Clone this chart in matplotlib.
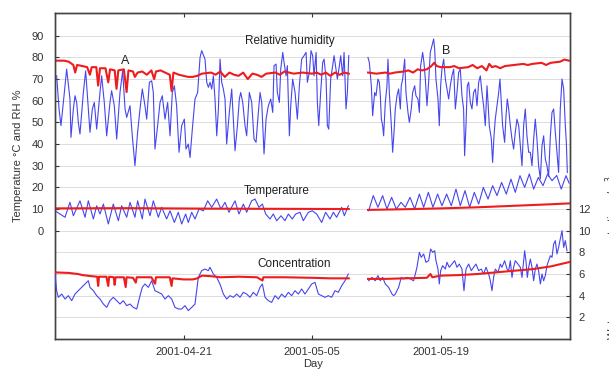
import numpy as np
import matplotlib
matplotlib.use("Agg")
import matplotlib.pyplot as plt
import matplotlib.dates as mdates
from datetime import datetime, timedelta

plt.rcParams['font.family'] = ['Liberation Sans', 'DejaVu Sans']

START = datetime(2001, 4, 7)

# ---------------- data (day offset from 2001-04-07, value) ----------------
rh_blue_1 = [
    (0.18, 71.5), (0.44, 56.2), (0.65, 48.5), (0.91, 59.2), (1.27, 74.6), (1.63, 60.8), (1.74, 43.1),
    (2.0, 56.2), (2.18, 62.3), (2.36, 59.2), (2.54, 50), (2.72, 44.6), (3.09, 63.8), (3.34, 73.8),
    (3.63, 56.2), (3.81, 45.4), (4.07, 56.2), (4.28, 59.2), (4.54, 46.9), (4.9, 63.8), (5.08, 71.5),
    (5.37, 59.2), (5.63, 43.8), (5.99, 59.2), (6.17, 64.6), (6.46, 57.7), (6.72, 42.3), (7.08, 63.8),
    (7.37, 73.8), (7.63, 56.2), (7.81, 52.3), (8.17, 57.7), (8.42, 43.8), (8.71, 30), (9.0, 45.4),
    (9.26, 56.2), (9.51, 65.4), (9.8, 57.7), (9.99, 51.5), (10.28, 68.5), (10.53, 69.2), (10.71, 63.8),
    (10.89, 37.7), (11.18, 48.5), (11.44, 59.2), (11.69, 62.3), (11.98, 51.5), (12.27, 59.2),
    (12.53, 43.8), (12.78, 63.8), (13.0, 66.9), (13.25, 57.7), (13.51, 36.2), (13.8, 48.5),
    (14.09, 51.5), (14.27, 37.7), (14.52, 40), (14.71, 33.8), (14.96, 46.9), (15.25, 60.8),
    (15.54, 63.8), (15.8, 80), (15.98, 83.1),
    (16.34, 79.2), (16.53, 68.5), (16.71, 66.2), (16.89, 68.5), (17.07, 65.4), (17.25, 71.5),
    (17.43, 60.8), (17.62, 43.8), (17.8, 56.2), (17.98, 79.2), (18.16, 68.5), (18.34, 65.4),
    (18.52, 60.8), (18.7, 40), (18.99, 54.6), (19.25, 65.4), (19.43, 51.5), (19.61, 36.9),
    (19.87, 48.5), (20.08, 60.8), (20.23, 63.8), (20.45, 59.2), (20.7, 48.5), (20.88, 43.8),
    (21.17, 63.8), (21.43, 59.2), (21.68, 42.3), (21.9, 40.8), (22.15, 54.6), (22.34, 63.8),
    (22.52, 59.2), (22.77, 35.4), (22.99, 51.5), (23.24, 57.7), (23.5, 60.8), (23.72, 54.6),
    (23.86, 76.2), (24.08, 76.9), (24.22, 63.8), (24.44, 59.2), (24.59, 74.6), (24.81, 82.3),
    (24.95, 77.7), (25.17, 71.5), (25.31, 76.2), (25.53, 43.8), (25.68, 57.7), (25.89, 70),
    (26.15, 63.8), (26.4, 51.5), (26.62, 66.9), (26.87, 79.2), (27.13, 80.8), (27.35, 82.3),
    (27.49, 68.5), (27.71, 73.1), (27.89, 83.1), (28.07, 80.8), (28.22, 71.5), (28.44, 82.3),
    (28.58, 59.2), (28.73, 48.5), (28.94, 63.8), (29.16, 77.7), (29.31, 79.2), (29.53, 70),
    (29.67, 48.5), (29.82, 46.9), (30.03, 70), (30.25, 76.2), (30.4, 80.8), (30.61, 74.6),
    (30.76, 70), (30.98, 76.2), (31.12, 80.8), (31.34, 71.5), (31.49, 82.3), (31.7, 56.2),
    (31.85, 63.8), (32.0, 80.8),
]
rh_blue_2 = [
    (34.09, 80.0), (34.24, 77.7), (34.46, 66.9), (34.60, 53.1), (34.82, 63.8), (34.97, 62.3),
    (35.18, 70), (35.33, 68.5), (35.44, 62.3), (35.55, 51.5), (35.69, 48.5), (35.80, 43.8),
    (35.98, 59.2), (36.16, 66.9), (36.27, 79.2), (36.42, 63.8), (36.64, 48.5), (36.78, 36.2),
    (36.93, 45.4), (37.07, 56.2), (37.25, 62.3), (37.43, 65.4), (37.62, 56.2), (37.72, 66.9),
    (37.87, 70), (38.09, 79.2), (38.23, 63.8), (38.45, 54.6), (38.60, 50), (38.81, 56.2),
    (38.96, 63.8), (39.18, 66.9), (39.32, 62.3), (39.54, 60.8), (39.69, 54.6), (39.83, 76.2),
    (40.05, 82.3), (40.19, 77.7), (40.34, 70), (40.52, 57.7), (40.70, 68.5), (40.88, 82.3),
    (41.07, 85.4), (41.25, 88.5), (41.36, 83.8), (41.50, 70), (41.72, 60.8), (41.86, 48.5),
    (42.01, 66.9), (42.15, 74.6), (42.34, 79.2), (42.52, 70), (42.70, 65.4), (42.88, 60.8),
    (43.06, 66.9), (43.24, 71.5), (43.43, 74.6), (43.61, 56.2), (43.79, 63.8), (43.97, 73.1),
    (44.15, 74.6), (44.33, 62.3), (44.51, 56.2), (44.62, 34.6), (44.77, 48.5), (44.91, 66.9),
    (45.06, 68.5), (45.24, 59.2), (45.42, 56.2), (45.60, 63.8), (45.79, 65.4), (45.97, 57.7),
    (46.15, 68.5), (46.33, 71.5), (46.51, 63.8), (46.69, 57.7), (46.87, 48.5), (47.06, 66.9),
    (47.17, 59.2), (47.31, 48.5), (47.53, 42.3), (47.67, 31.5), (47.82, 43.8), (47.96, 51.5),
    (48.15, 57.7), (48.33, 63.8), (48.47, 70), (48.62, 59.2), (48.76, 48.5), (48.98, 40.8),
    (49.13, 53.1), (49.27, 60.8), (49.42, 56.2), (49.60, 48.5), (49.78, 42.3), (49.96, 37.7),
    (50.14, 45.4), (50.32, 51.5), (50.51, 48.5), (50.69, 39.2), (50.87, 30), (51.05, 48.5),
    (51.23, 56.2), (51.41, 43.8), (51.60, 36.2), (51.78, 36.2), (51.96, 30), (52.14, 42.3),
    (52.32, 51.5), (52.50, 42.3), (52.68, 30), (52.87, 24), (53.05, 39.2), (53.23, 43.8),
    (53.41, 33.1), (53.59, 30), (53.77, 25), (53.96, 43.8), (54.14, 54.6), (54.32, 56.2),
    (54.50, 45.4), (54.68, 36.2), (54.86, 26.9), (55.04, 56.2), (55.23, 70), (55.41, 65.4),
    (55.59, 48.5), (55.70, 40.8), (55.81, 26.9),
]
rh_red_1 = [
    (0, 78.5), (1.0, 78.5), (1.5, 78), (2.0, 76.5), (2.2, 73), (2.4, 76.5), (3.0, 76), (3.5, 75.5),
    (3.8, 72), (4.0, 75.5), (4.5, 75.5), (4.7, 67), (4.9, 75), (5.5, 75), (5.8, 68.5), (6.0, 74.5),
    (6.5, 74), (6.7, 65.5), (6.9, 74), (7.5, 74.5), (7.8, 64), (8.0, 74), (8.5, 73.5), (8.7, 71),
    (9.0, 73), (9.5, 73.5), (10.0, 72), (10.5, 74), (10.8, 70), (11.0, 73.5), (11.5, 74),
    (12.0, 73), (12.5, 72), (12.7, 64.5), (12.9, 73), (13.5, 72), (14.0, 71.5), (14.5, 71),
    (15.0, 71), (15.5, 71.5), (16.0, 72.5), (17, 73), (17.5, 72), (18, 73.5), (18.5, 71), (19, 73),
    (19.5, 72), (20, 71.5), (20.5, 73), (21, 70), (21.5, 72.5), (22, 72), (22.5, 71), (23, 72.5),
    (24, 73), (24.5, 72), (25, 73.5), (26, 72.5), (27, 73), (28, 72.5), (28.5, 73), (29, 72),
    (29.5, 73), (30, 71.5), (30.5, 73), (31, 72), (31.5, 73), (32.0, 72.5),
]
rh_red_2 = [
    (34.1, 73), (35, 72.5), (36, 73), (36.5, 72.5), (37, 73), (38, 73.5), (38.5, 74), (39, 73),
    (39.5, 74.5), (40, 74), (40.5, 74.5), (41, 76), (41.3, 77.5), (41.6, 76), (42, 75.5),
    (43, 75.5), (43.5, 76), (44, 75), (45, 75.5), (45.5, 76.5), (46, 75), (46.5, 76), (47, 74),
    (47.3, 77), (47.6, 75.5), (48, 76), (48.5, 75), (49, 76), (50, 76.5), (51, 77), (51.5, 76.5),
    (52, 77), (53, 77.5), (53.5, 76.5), (54, 77.5), (55, 78), (55.5, 79), (56, 78.5),
]
temp_blue_1 = [
    (0.0, 9.2), (1.09, 6.2), (1.63, 13.1), (2.0, 6.9), (2.72, 13.8), (3.27, 6.2), (3.63, 13.8),
    (4.18, 5.4), (4.54, 11.5), (4.9, 7.7), (5.27, 12.3), (5.81, 3.1), (6.35, 12.3), (6.9, 4.6),
    (7.26, 11.5), (7.81, 6.2), (8.17, 13.1), (8.71, 6.2), (9.0, 13.8), (9.51, 5.4), (9.8, 14.6),
    (10.35, 6.9), (10.71, 13.8), (11.26, 6.2), (11.62, 10.8), (12.16, 5.4), (12.53, 9.2),
    (13.0, 3.8), (13.43, 8.5), (13.8, 3.1), (14.23, 7.7), (14.52, 3.8), (14.89, 8.5), (15.25, 5.4),
    (15.69, 10), (16.16, 9.2), (16.63, 13.8), (17.07, 10.8), (17.61, 14.6), (18.08, 10),
    (18.52, 13.1), (18.95, 8.5), (19.61, 13.8), (20.04, 7.7), (20.52, 12.3), (20.88, 8.5),
    (21.42, 13.8), (21.79, 14.6), (22.22, 10.8), (22.59, 12.3), (22.95, 7.7), (23.42, 5.4),
    (23.78, 7.7), (24.15, 4.6), (24.62, 6.9), (25.05, 4.6), (25.42, 7.7), (25.85, 5.4),
    (26.22, 7.7), (26.69, 8.5), (27.05, 4.6), (27.6, 8.5), (28.03, 9.2), (28.5, 7.7), (29.05, 3.8),
    (29.48, 8.5), (29.96, 5.4), (30.32, 8.5), (30.68, 6.2), (31.23, 10.8), (31.52, 6.9),
    (31.95, 11.5),
]
temp_blue_2 = [
    (34.17, 9.2), (34.67, 16.2), (35.18, 10.8), (35.69, 16.2), (36.16, 10), (36.67, 15.4),
    (37.18, 10), (37.69, 13.1), (38.16, 10.8), (38.67, 15.4), (39.18, 10), (39.69, 16.9),
    (40.16, 10.8), (40.67, 17.7), (41.17, 10.8), (41.68, 16.9), (42.15, 11.5), (42.66, 16.9),
    (43.17, 11.5), (43.68, 19.2), (44.15, 11.5), (44.66, 18.5), (45.17, 10.8), (45.68, 17.7),
    (46.15, 12.3), (46.66, 20), (47.17, 14.6), (47.67, 20.8), (48.15, 16.2), (48.65, 22.3),
    (49.16, 16.9), (49.67, 23.8), (50.14, 17.7), (50.65, 25.4), (51.16, 20), (51.67, 26.2),
    (52.14, 19.2), (52.65, 24.6), (53.16, 20.8), (53.66, 26.2), (54.14, 23.1), (54.65, 25.5),
    (55.15, 19.2), (55.66, 25.4), (56.0, 22),
]
temp_red_1 = [(0, 10.3), (8, 10.4), (16, 10.2), (24, 10.1), (32, 10.0)]
temp_red_2 = [(34.1, 9.6), (38, 9.9), (42, 10.3), (46, 10.8), (50, 11.5), (54, 12.2), (56, 12.6)]

conc_blue_1 = [
    (0.0, 6.0), (0.18, 4.46), (0.36, 3.85), (0.73, 4.15), (1.09, 3.69), (1.45, 4.0), (1.82, 3.54),
    (2.18, 4.15), (2.54, 4.46), (2.9, 4.77), (3.27, 5.08), (3.63, 5.38), (3.81, 4.77), (4.18, 4.46),
    (4.54, 4.0), (4.9, 3.69), (5.27, 3.23), (5.63, 2.92), (5.99, 3.54), (6.35, 3.85), (6.72, 3.54),
    (7.08, 3.23), (7.44, 3.54), (7.81, 3.08), (8.17, 3.23), (8.53, 2.92), (8.9, 2.77), (9.26, 4.0),
    (9.51, 4.77), (9.8, 5.08), (10.17, 4.77), (10.53, 5.38), (10.89, 4.46), (11.26, 4.31),
    (11.62, 4.15), (11.98, 3.69), (12.35, 4.0), (12.71, 3.69), (13.07, 2.92), (13.43, 2.77),
    (13.8, 2.77), (14.16, 3.08), (14.52, 2.62), (14.89, 2.92), (15.25, 3.23), (15.61, 5.69),
    (15.98, 6.31), (16.34, 6.46), (16.7, 6.31), (16.88, 6.62), (17.25, 6.0), (17.61, 5.69),
    (17.97, 5.08), (18.34, 4.15), (18.7, 3.69), (19.06, 4.0), (19.43, 3.85), (19.79, 4.15),
    (20.15, 3.85), (20.52, 4.31), (20.88, 4.15), (21.24, 3.85), (21.6, 4.31), (21.97, 4.0),
    (22.33, 4.77), (22.59, 5.08), (22.88, 3.85), (23.24, 3.54), (23.6, 3.38), (23.97, 4.0),
    (24.33, 3.69), (24.69, 4.15), (25.05, 3.85), (25.42, 4.31), (25.78, 4.0), (26.14, 4.46),
    (26.51, 4.15), (26.87, 4.62), (27.23, 4.15), (27.6, 4.62), (27.96, 5.08), (28.32, 5.23),
    (28.69, 4.15), (29.05, 4.0), (29.41, 3.85), (29.77, 4.0), (30.14, 3.85), (30.5, 4.46),
    (30.86, 4.31), (31.23, 4.92), (31.59, 5.38), (31.95, 6.0),
]
conc_blue_2 = [
    (34.17, 5.38), (34.53, 5.69), (34.89, 5.38), (35.18, 5.85), (35.44, 5.38), (35.69, 5.69),
    (35.98, 5.08), (36.34, 4.77), (36.71, 4.15), (36.89, 4.0), (37.07, 4.15), (37.43, 4.77),
    (37.72, 5.69), (37.98, 5.54), (38.34, 5.69), (38.71, 5.54), (39.07, 5.38), (39.43, 6.62),
    (39.69, 8.0), (39.9, 7.54), (40.16, 7.85), (40.41, 7.08), (40.7, 7.23), (40.92, 8.31),
    (41.14, 8.0), (41.36, 8.15), (41.5, 7.23), (41.72, 6.46), (41.86, 5.08), (42.01, 6.31),
    (42.23, 6.77), (42.52, 6.46), (42.7, 7.08), (42.95, 6.62), (43.24, 6.92), (43.53, 7.23),
    (43.79, 6.62), (44.04, 6.92), (44.33, 6.46), (44.55, 4.46), (44.77, 6.46), (45.06, 6.92),
    (45.35, 6.31), (45.6, 6.62), (45.86, 6.92), (46.15, 6.31), (46.44, 6.46), (46.69, 6.0),
    (46.95, 6.62), (47.24, 6.0), (47.42, 5.38), (47.6, 4.46), (47.78, 5.69), (47.96, 6.46),
    (48.25, 6.15), (48.51, 6.92), (48.69, 6.62), (48.98, 7.23), (49.24, 6.46), (49.42, 6.31),
    (49.6, 7.23), (49.78, 5.69), (49.96, 6.62), (50.14, 7.23), (50.43, 6.92), (50.69, 6.62),
    (50.87, 5.69), (51.16, 8.15), (51.3, 7.23), (51.45, 5.69), (51.6, 6.62), (51.78, 7.38),
    (51.96, 6.62), (52.14, 5.38), (52.32, 6.46), (52.5, 6.92), (52.68, 6.31), (52.87, 5.08),
    (53.05, 6.0), (53.23, 5.38), (53.41, 5.85), (53.59, 6.77), (53.77, 7.23), (53.96, 7.69),
    (54.14, 7.54), (54.32, 8.77), (54.5, 9.08), (54.68, 7.85), (54.86, 8.46), (55.04, 9.23),
    (55.23, 10.0), (55.41, 8.46), (55.59, 9.08), (55.77, 8.15),
]
conc_red_1 = [
    (0, 6.15), (1.5, 6.1), (2.5, 6.0), (3.0, 5.9), (3.5, 5.85), (4.0, 5.8), (4.6, 5.75), (4.7, 4.9),
    (4.8, 5.75), (5.6, 5.75), (5.8, 4.9), (5.9, 5.75), (6.4, 5.7), (6.5, 5.0), (6.6, 5.7),
    (7.5, 5.7), (7.7, 4.8), (7.8, 5.7), (8.5, 5.65), (8.8, 5.2), (8.9, 5.7), (10.5, 5.7),
    (10.9, 5.1), (11.0, 5.7), (12.5, 5.7), (12.7, 4.9), (12.8, 5.6), (14, 5.5), (15, 5.5),
    (15.5, 5.6), (16, 5.85), (17, 5.8), (18, 5.7), (20, 5.75), (22, 5.7), (22.6, 5.4), (22.7, 5.7),
    (25, 5.7), (28, 5.65), (30, 5.6), (32, 5.6),
]
conc_red_2 = [
    (34.1, 5.55), (36, 5.55), (38, 5.6), (40.5, 5.65), (40.9, 6.0), (41.1, 5.7), (42, 5.85),
    (44, 5.9), (46, 6.0), (48, 6.15), (50, 6.3), (52, 6.45), (54, 6.7), (55, 6.9), (56, 7.1),
]

date_ticks = ['2001-04-21', '2001-05-05', '2001-05-19']
left_ticks = [0, 10, 20, 30, 40, 50, 60, 70, 80, 90]
right_ticks = [2, 4, 6, 8, 10, 12]

# ---------------- plotting ----------------
BLUE = '#4646ee'
RED = '#ee1c1c'


def to_dates(pairs):
    d = [mdates.date2num(START + timedelta(days=p[0])) for p in pairs]
    v = [p[1] for p in pairs]
    return d, v


fig = plt.figure(figsize=(6.09, 3.69), dpi=100)
ax = fig.add_axes([55 / 609, 1 - 339 / 369, (570 - 55) / 609, (339 - 13) / 369])
ax2 = ax.twinx()

for series in (rh_blue_1, rh_blue_2, temp_blue_1, temp_blue_2):
    x, y = to_dates(series)
    ax.plot(x, y, color=BLUE, lw=0.8, zorder=3)
for series in (rh_red_1, rh_red_2, temp_red_1, temp_red_2):
    x, y = to_dates(series)
    ax.plot(x, y, color=RED, lw=1.5, zorder=4)
for series in (conc_blue_1, conc_blue_2):
    x, y = to_dates(series)
    ax2.plot(x, y, color=BLUE, lw=0.8, zorder=3)
for series in (conc_red_1, conc_red_2):
    x, y = to_dates(series)
    ax2.plot(x, y, color=RED, lw=1.5, zorder=4)

x0 = mdates.date2num(START)
ax.set_xlim(x0, x0 + 56.1)
ax.set_ylim(-50, 100.5)
ax2.set_ylim(0, 30.1)

ax.set_yticks(left_ticks)
ax.set_yticks(list(range(-40, 0, 10)), minor=True)
ax.yaxis.grid(True, which='both', color='#dcdcdc', lw=0.7, zorder=0)
ax.tick_params(axis='y', which='minor', length=0)
ax.tick_params(axis='y', which='major', direction='in', length=3, labelsize=8,
               labelcolor='#333333', color='#333333', pad=8)
ax.set_xticks([mdates.date2num(datetime.strptime(s, '%Y-%m-%d')) for s in date_ticks])
ax.set_xticklabels(date_ticks)
ax.tick_params(axis='x', direction='in', length=3, labelsize=8, labelcolor='#333333',
               color='#333333', top=True, pad=6)

ax2.set_yticks(right_ticks)
ax2.tick_params(axis='y', direction='in', length=3, labelsize=8, labelcolor='#333333',
                color='#333333', pad=6)

for a in (ax, ax2):
    for s in a.spines.values():
        s.set_color('#444444')
        s.set_linewidth(1.0)

ax.text(x0 + 7.6, 78.5, 'A', fontsize=9, ha='center', va='center', color='#222222', zorder=6)
ax.text(x0 + 42.6, 83.0, 'B', fontsize=9, ha='center', va='center', color='#222222', zorder=6)
ax.text(x0 + 25.6, 87.6, 'Relative humidity', fontsize=8.5, ha='center', va='center',
        color='#222222', zorder=6)
ax.text(x0 + 24.2, 18.2, 'Temperature', fontsize=8.5, ha='center', va='center',
        color='#222222', zorder=6)
ax.text(x0 + 26.0, -15.2, 'Concentration', fontsize=8.5, ha='center', va='center',
        color='#222222', zorder=6)

fig.text(18 / 609, 1 - 156 / 369, 'Temperature °C and RH %', rotation=90, fontsize=8,
         ha='center', va='center', color='#333333')
fig.text(613 / 609, 1 - 258 / 369, 'Water vapour concentration g/m$^3$', rotation=90,
         fontsize=8, ha='center', va='center', color='#333333')
fig.text(313 / 609, 1 - 364 / 369, 'Day', fontsize=8, ha='center', va='center', color='#333333')

fig.savefig('out.png', dpi=100)
